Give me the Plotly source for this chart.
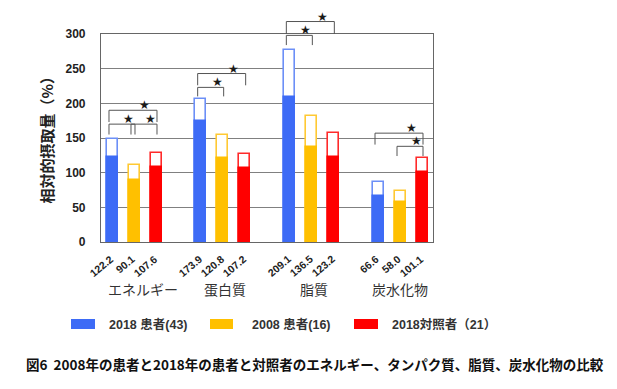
import plotly.graph_objects as go

categories = ["エネルギー", "蛋白質", "脂質", "炭水化物"]
series_names = ["2018 患者(43)", "2008 患者(16)", "2018対照者（21）"]
mean_2018_patients = [122.2, 173.9, 209.1, 66.6]
mean_2008_patients = [90.1, 120.8, 136.5, 58.0]
mean_2018_controls = [107.6, 107.2, 123.2, 101.1]
upper_2018_patients = [149, 206, 277.5, 86.5]
upper_2008_patients = [111.6, 155, 181.3, 73]
upper_2018_controls = [128, 127.5, 157.8, 120.7]
y_ticks = [0, 50, 100, 150, 200, 250, 300]
# significance brackets: (category index, series i, series j, bracket top, leg end)
brackets = [
    (0, 0, 1, 170, 155), (0, 1, 2, 170, 155), (0, 0, 2, 190, 173),
    (1, 0, 1, 223, 210), (1, 0, 2, 243, 226),
    (2, 0, 1, 298, 284), (2, 0, 2, 318, 300),
    (3, 0, 2, 157, 140.5), (3, 1, 2, 138, 124),
]
caption = "図6  2008年の患者と2018年の患者と対照者のエネルギー、タンパク質、脂質、炭水化物の比較"
y_title = "相対的摂取量（%）"

means = [mean_2018_patients, mean_2008_patients, mean_2018_controls]
uppers = [upper_2018_patients, upper_2008_patients, upper_2018_controls]
colors = ["#3D6BF6", "#FFC000", "#FF0000"]
outline = ["#6C8FF7", "#FFC933", "#FF2A2A"]

W, H = 617, 389
L, R, T, B = 101, 184, 34, 147
PW = W - L - R
PH = H - T - B
gap = 88.67
xmin = -33 / gap
xmax = 3 + 33 / gap
offs = [-22 / gap, 0, 22 / gap]
bw = 11 / gap
px = lambda d: d / gap  # pixels to x data units

SANS = "Liberation Sans, Noto Sans CJK JP, sans-serif"
CJK = "Noto Sans CJK JP, sans-serif"

fig = go.Figure()
for s in range(3):
    xs = [g + offs[s] for g in range(len(categories))]
    fig.add_trace(go.Bar(x=xs, y=uppers[s], width=bw, marker=dict(color="white", line=dict(color=outline[s], width=1.6)),
                         showlegend=False, hoverinfo="skip"))
    fig.add_trace(go.Bar(x=xs, y=means[s], width=bw, marker=dict(color=colors[s], line=dict(color=colors[s], width=1.6)),
                         name=series_names[s], showlegend=False))

ann = []
shapes = []
# value labels
for s in range(3):
    for g in range(len(categories)):
        ann.append(dict(x=g + offs[s] + px(6), y=0, xref="x", yref="y", text=f"{means[s][g]:.1f}",
                        showarrow=False, xanchor="right", yanchor="top", yshift=-8, textangle=-40,
                        font=dict(family=SANS, size=10.5, color="#222", weight="bold")))
# category labels
cat_shift = [9, 2, 3, 0]
for g, c in enumerate(categories):
    ann.append(dict(x=g, y=0, xref="x", yref="y", text=c, showarrow=False, xanchor="center", yanchor="middle",
                    xshift=cat_shift[g], yshift=-47, font=dict(family=CJK, size=14, color="#333")))

def xp(xd):
    return (xd - xmin) / (xmax - xmin)

def yp(v):
    return v / 300.0

for (g, i, j, top, leg) in brackets:
    x0 = g + offs[i] - px(3)
    x1 = g + offs[j] + px(1)
    path = f"M {xp(x0)},{yp(leg)} L {xp(x0)},{yp(top)} L {xp(x1)},{yp(top)} L {xp(x1)},{yp(leg)}"
    shapes.append(dict(type="path", path=path, xref="paper", yref="paper", line=dict(color="#555", width=1)))
    ann.append(dict(x=xp(x0 + 0.75 * (x1 - x0)), y=yp(top), xref="paper", yref="paper", text="★", showarrow=False,
                    xanchor="center", yanchor="middle", yshift=5, font=dict(family="DejaVu Sans", size=12, color="#1a1a1a")))

# y title
ann.append(dict(x=(46 - L) / PW, y=(242 - 136.5) / PH, xref="paper", yref="paper", text=y_title, showarrow=False,
                textangle=-90, xanchor="center", yanchor="middle",
                font=dict(family=CJK, size=15, color="#222", weight="bold")))

# legend
leg_box = [(71, 95), (210, 233), (354, 378)]
leg_text_x = [107, 250, 390]
for s in range(3):
    shapes.append(dict(type="rect", xref="paper", yref="paper",
                       x0=(leg_box[s][0] - L) / PW, x1=(leg_box[s][1] - L) / PW,
                       y0=(242 - 319) / PH, y1=(242 - 329) / PH,
                       fillcolor=colors[s], line=dict(width=0)))
    ann.append(dict(x=(leg_text_x[s] - L) / PW, y=(242 - 324) / PH, xref="paper", yref="paper", text=series_names[s],
                    showarrow=False, xanchor="left", yanchor="middle",
                    font=dict(family=SANS, size=12.5, color="#333", weight="bold")))

# caption
ann.append(dict(x=(315 - L) / PW, y=(242 - 364) / PH, xref="paper", yref="paper", text=caption, showarrow=False,
                xanchor="center", yanchor="middle", font=dict(family=CJK, size=13.5, color="#111", weight="bold")))

fig.update_layout(
    width=W, height=H, margin=dict(l=L, r=R, t=T, b=B),
    barmode="overlay", bargap=0,
    paper_bgcolor="white", plot_bgcolor="white",
    annotations=ann, shapes=shapes, showlegend=False,
    xaxis=dict(range=[xmin, xmax], showticklabels=False, showgrid=False, zeroline=False,
               showline=True, mirror=True, linecolor="#666", linewidth=1.2, ticks=""),
    yaxis=dict(range=[0, 300], tickvals=y_ticks, showgrid=True, gridcolor="#808080", gridwidth=1,
               zeroline=False, showline=True, mirror=True, linecolor="#666", linewidth=1.2, ticks="",
               ticklabelstandoff=12,
               tickfont=dict(family=SANS, size=12, color="#222", weight="bold")),
)

fig.write_html("out.html", config={"displayModeBar": False},
               post_script="document.body.style.margin='0';")
